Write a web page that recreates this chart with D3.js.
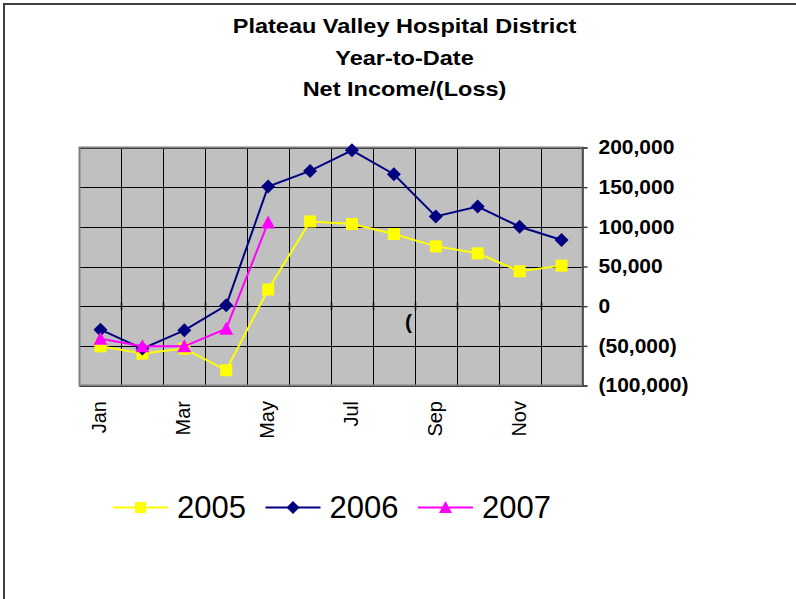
<!DOCTYPE html>
<html>
<head>
<meta charset="utf-8">
<script src="https://cdn.jsdelivr.net/npm/d3@7"></script>
<style>
  body { margin: 0; background: #fff; }
  text { font-family: "Liberation Sans", Arial, sans-serif; fill: #000; }
</style>
</head>
<body>
<div id="viz"></div>
<script>
// ---- data ----
let months = ["Jan", "Feb", "Mar", "Apr", "May", "Jun", "Jul", "Aug", "Sep", "Oct", "Nov", "Dec"];
let month_labels = ["Jan", "Mar", "May", "Jul", "Sep", "Nov"];
let y_ticks = [-100000, -50000, 0, 50000, 100000, 150000, 200000];
let title_lines = ["Plateau Valley Hospital District", "Year-to-Date", "Net Income/(Loss)"];

let v2005 = [-50600, -59800, -53500, -80800, 21000, 106800, 103500, 91000, 75400, 66600, 44000, 51100];
let v2006 = [-29600, -53500, -30500, 1000, 150800, 170500, 196500, 166300, 113000, 125600, 100100, 83400];
let v2007 = [-41000, -50600, -50600, -28400, 105500];

let series = [
    {name: "2005", values: v2005, color: "#FFFF00", marker: "square"},
    {name: "2006", values: v2006, color: "#000080", marker: "diamond"},
    {name: "2007", values: v2007, color: "#FF00FF", marker: "triangle"}
];

let width = 796, height = 599;
let plot = {left: 79.5, right: 582.5, top: 147.5, bottom: 385.5};

let svg = d3.select("#viz").append("svg")
    .attr("width", width)
    .attr("height", height);

// outer frame (runs off the right / bottom edges)
svg.append("rect")
    .attr("x", 4).attr("y", 4)
    .attr("width", 800).attr("height", 600)
    .attr("fill", "none")
    .attr("stroke", "#404040")
    .attr("stroke-width", 2);

// title, slightly stretched sideways like the original
let title = svg.append("g")
    .attr("transform", "translate(404.5,0) scale(1.12,1)");
title.selectAll("text")
    .data(title_lines)
    .enter().append("text")
    .attr("x", 0)
    .attr("y", (d, i) => 33.5 + i * 31.5)
    .attr("text-anchor", "middle")
    .style("font-size", "21px")
    .style("font-weight", "bold")
    .text(d => d);

let x = d3.scaleBand().domain(months).range([plot.left, plot.right]);
let y = d3.scaleLinear().domain([-100000, 200000]).range([plot.bottom, plot.top]);
let cx = d => x(d) + x.bandwidth() / 2;

// plot area
svg.append("rect")
    .attr("x", plot.left).attr("y", plot.top)
    .attr("width", plot.right - plot.left)
    .attr("height", plot.bottom - plot.top)
    .attr("fill", "#C0C0C0");

// horizontal gridlines
svg.append("g")
    .selectAll("line")
    .data(y_ticks)
    .enter().append("line")
    .attr("x1", plot.left).attr("x2", plot.right)
    .attr("y1", d => Math.round(y(d)) + 0.5)
    .attr("y2", d => Math.round(y(d)) + 0.5)
    .attr("stroke", "#000")
    .attr("stroke-width", 1);

// vertical gridlines at category boundaries
svg.append("g")
    .selectAll("line")
    .data(months.slice(1))
    .enter().append("line")
    .attr("x1", d => Math.round(x(d)) + 0.5)
    .attr("x2", d => Math.round(x(d)) + 0.5)
    .attr("y1", plot.top).attr("y2", plot.bottom)
    .attr("stroke", "#000")
    .attr("stroke-width", 1);

// small cross ticks on the zero line
svg.append("g")
    .selectAll("line")
    .data(months.slice(1))
    .enter().append("line")
    .attr("x1", d => Math.round(x(d)) + 0.5)
    .attr("x2", d => Math.round(x(d)) + 0.5)
    .attr("y1", y(0) - 4).attr("y2", y(0) + 4)
    .attr("stroke", "#000")
    .attr("stroke-width", 1.5);

// plot border
svg.append("rect")
    .attr("x", plot.left).attr("y", plot.top)
    .attr("width", plot.right - plot.left)
    .attr("height", plot.bottom - plot.top)
    .attr("fill", "none")
    .attr("stroke", "#808080")
    .attr("stroke-width", 2);

// right value axis
let y_axis = svg.append("g")
    .attr("transform", "translate(" + plot.right + ",0)")
    .call(d3.axisRight(y)
        .tickValues(y_ticks)
        .tickSize(5)
        .tickPadding(11)
        .tickFormat(d => d < 0 ? "(" + d3.format(",")(-d) + ")" : d3.format(",")(d)));
y_axis.select(".domain").attr("stroke", "#404040").attr("stroke-width", 1.5);
y_axis.selectAll(".tick line").attr("stroke", "#404040").attr("stroke-width", 1.5);
y_axis.selectAll(".tick text")
    .style("font-size", "21px")
    .style("font-weight", "bold")
    .attr("fill", "#000")
    .attr("dy", "0.3em");
y_axis.attr("font-family", null);

// month labels (every other one), rotated
svg.append("g")
    .selectAll("text")
    .data(month_labels)
    .enter().append("text")
    .attr("transform", d => "translate(" + (cx(d) - 1) + "," + 401 + ") rotate(-90)")
    .attr("text-anchor", "end")
    .attr("dy", "0.35em")
    .style("font-size", "20px")
    .text(d => d);

// stray clipped label fragment seen in the original
svg.append("text")
    .attr("x", 405).attr("y", 329)
    .style("font-size", "21px")
    .style("font-weight", "bold")
    .text("(");

// marker shapes
function marker_path(type, s) {
    let h = s / 2;
    if (type === "square") return "M" + (-h) + "," + (-h) + "h" + s + "v" + s + "h" + (-s) + "Z";
    if (type === "diamond") return "M0," + (-h - 1) + "L" + (h + 1) + ",0L0," + (h + 1) + "L" + (-h - 1) + ",0Z";
    return "M0," + (-h - 1) + "L" + (h + 1) + "," + (h) + "L" + (-h - 1) + "," + (h) + "Z";
}

let line = d3.line()
    .x((d, i) => cx(months[i]))
    .y(d => y(d));

series.forEach(function(s) {
    let g = svg.append("g");
    g.append("path")
        .attr("d", line(s.values))
        .attr("fill", "none")
        .attr("stroke", s.color)
        .attr("stroke-width", 2);
    g.selectAll("path.mk")
        .data(s.values)
        .enter().append("path")
        .attr("class", "mk")
        .attr("transform", (d, i) => "translate(" + cx(months[i]) + "," + y(d) + ")")
        .attr("d", marker_path(s.marker, 12))
        .attr("fill", s.color);
});

// legend
let legend = svg.append("g").attr("transform", "translate(113,507.5)");
let item = legend.selectAll("g")
    .data(series)
    .enter().append("g")
    .attr("transform", (d, i) => "translate(" + (i * 152.5) + ",0)");
item.append("line")
    .attr("x1", 0).attr("x2", 55)
    .attr("y1", 0).attr("y2", 0)
    .attr("stroke", d => d.color)
    .attr("stroke-width", 2);
item.append("path")
    .attr("transform", "translate(27.5,0)")
    .attr("d", d => marker_path(d.marker, 11))
    .attr("fill", d => d.color);
item.append("text")
    .attr("x", 64)
    .attr("y", 10.5)
    .style("font-size", "31px")
    .text(d => d.name);
</script>
</body>
</html>
